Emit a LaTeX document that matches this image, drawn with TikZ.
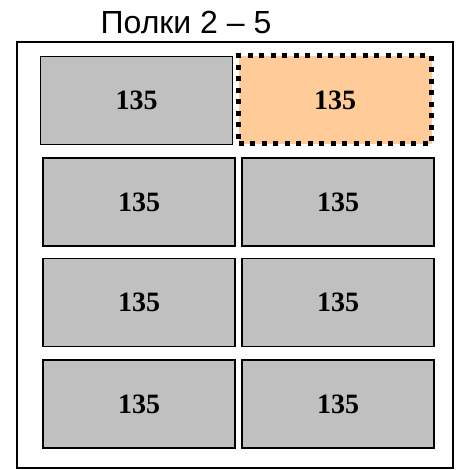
\documentclass[tikz,border=0pt]{standalone}
\usepackage{fontspec}
\setmainfont{Liberation Serif}
\newfontfamily\titlefont{Liberation Sans}
\definecolor{boxgray}{HTML}{C0C0C0}
\definecolor{boxorange}{HTML}{FFCC99}
\begin{document}
\begin{tikzpicture}[x=1pt,y=-1pt,
  shelf/.style={draw=black, line width=1.5pt, fill=boxgray, inner sep=0pt,
    minimum width=192pt, minimum height=88pt,
    font=\fontsize{28}{28}\selectfont\bfseries},
  hilite/.style={shelf, fill=boxorange, draw=black, line width=5pt,
    dash pattern=on 5pt off 6.5pt, minimum width=193pt, minimum height=88pt},
  frame/.style={draw=black, line width=2pt}]
\useasboundingbox (0,0) rectangle (456,470);
\draw[frame] (17,42) rectangle (453,468);
\node[anchor=base, font=\titlefont\fontsize{32}{32}\selectfont] (title) at (186,34) {Полки 2 – 5};
\node[shelf] (r1a) at (136.5,100.5) {135};
\node[hilite] (r1b) at (335,100) {135};
\node[shelf] (r2a) at (139,202) {135};
\node[shelf] (r2b) at (338,202) {135};
\node[shelf] (r3a) at (139,302.5) {135};
\node[shelf] (r3b) at (338,302.5) {135};
\node[shelf] (r4a) at (139,404) {135};
\node[shelf] (r4b) at (338,404) {135};
\end{tikzpicture}
\end{document}
